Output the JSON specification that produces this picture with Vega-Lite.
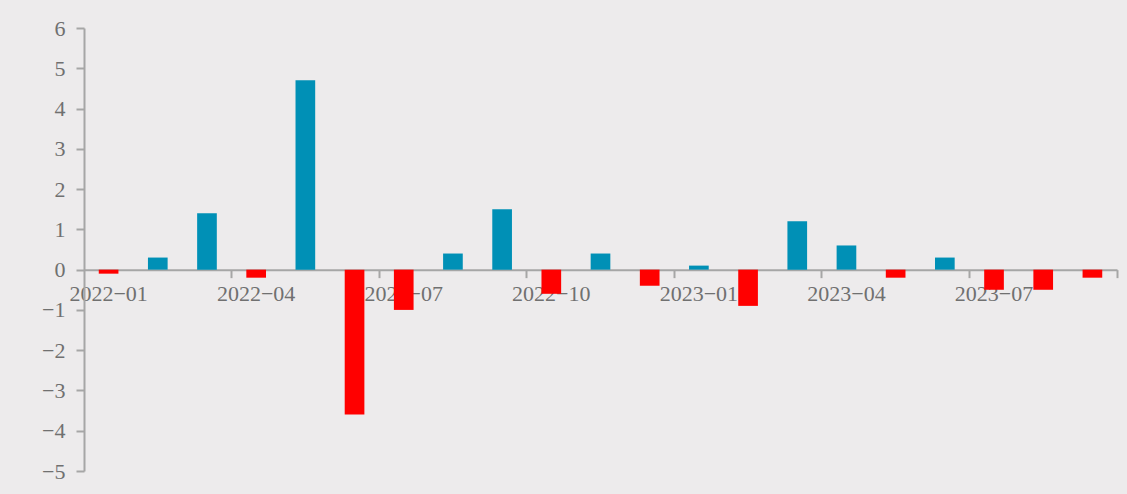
{
  "$schema": "https://vega.github.io/schema/vega-lite/v6.json",
  "autosize": {"type": "none"},
  "width": 1033,
  "height": 443,
  "padding": {"left": 84, "top": 28, "right": 10, "bottom": 23},
  "background": "#edebec",
  "config": {
    "view": {"stroke": null},
    "axis": {"labelFont": "Liberation Serif", "labelFontSize": 22, "labelColor": "#707070", "domainColor": "#a6a6a6", "tickColor": "#a6a6a6", "domainWidth": 2, "tickWidth": 2, "grid": false, "title": null}
  },
  "data": {
    "values": [
      {"month": "2022-01", "value": -0.1},
      {"month": "2022-02", "value": 0.3},
      {"month": "2022-03", "value": 1.4},
      {"month": "2022-04", "value": -0.2},
      {"month": "2022-05", "value": 4.7},
      {"month": "2022-06", "value": -3.6},
      {"month": "2022-07", "value": -1.0},
      {"month": "2022-08", "value": 0.4},
      {"month": "2022-09", "value": 1.5},
      {"month": "2022-10", "value": -0.6},
      {"month": "2022-11", "value": 0.4},
      {"month": "2022-12", "value": -0.4},
      {"month": "2023-01", "value": 0.1},
      {"month": "2023-02", "value": -0.9},
      {"month": "2023-03", "value": 1.2},
      {"month": "2023-04", "value": 0.6},
      {"month": "2023-05", "value": -0.2},
      {"month": "2023-06", "value": 0.3},
      {"month": "2023-07", "value": -0.5},
      {"month": "2023-08", "value": -0.5},
      {"month": "2023-09", "value": -0.2}
    ]
  },
  "layer": [
    {
      "mark": {"type": "bar", "width": {"band": 0.4}},
      "encoding": {
        "x": {
          "field": "month", "type": "ordinal", "sort": null,
          "scale": {"paddingInner": 0, "paddingOuter": 0},
          "axis": {
            "orient": "bottom",
            "offset": -201.36,
            "domain": true,
            "ticks": true,
            "tickSize": 8,
            "bandPosition": 1,
            "values": ["2022-03", "2022-06", "2022-09", "2022-12", "2023-03", "2023-06", "2023-09"],
            "labels": false
          }
        },
        "y": {
          "field": "value", "type": "quantitative",
          "scale": {"domain": [-5, 6], "nice": false},
          "axis": {"values": [-5, -4, -3, -2, -1, 0, 1, 2, 3, 4, 5, 6], "tickSize": 8, "labelPadding": 11, "labelAngle": 0}
        },
        "color": {
          "condition": {"test": "datum.value >= 0", "value": "#0090b6"},
          "value": "#ff0000"
        }
      }
    },
    {
      "mark": {"type": "bar", "opacity": 0},
      "encoding": {
        "x": {
          "field": "month", "type": "ordinal", "sort": null,
          "axis": {
            "orient": "bottom",
            "offset": -201.36,
            "domain": false,
            "ticks": false,
            "labelPadding": 14,
            "labelAngle": 0,
            "values": ["2022-01", "2022-04", "2022-07", "2022-10", "2023-01", "2023-04", "2023-07"],
            "labelExpr": "replace(datum.label, '-', '\u2212')"
          }
        },
        "y": {"field": "value", "type": "quantitative"}
      }
    }
  ],
  "resolve": {"axis": {"x": "independent"}}
}
